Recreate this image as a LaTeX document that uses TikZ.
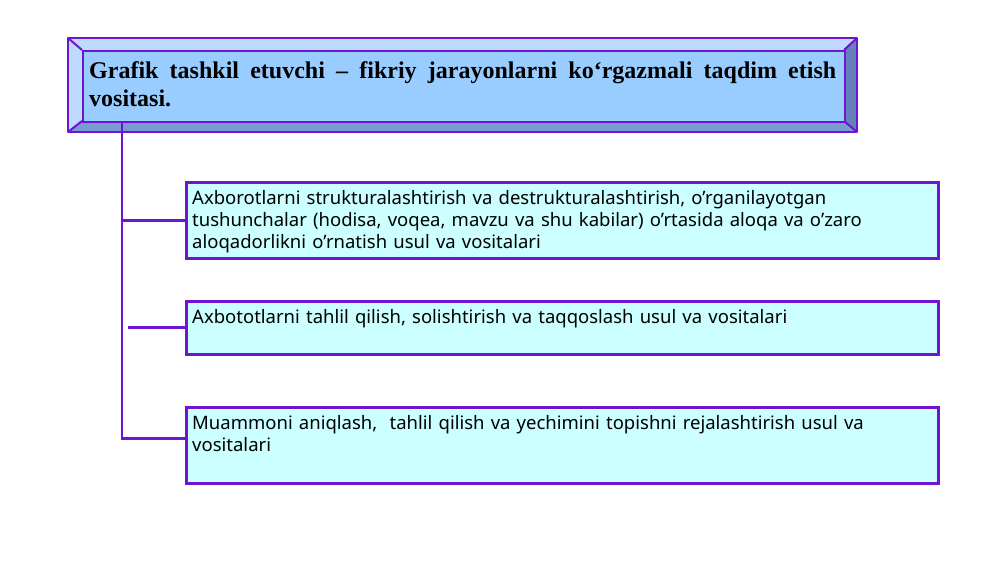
\documentclass[tikz,border=0pt]{standalone}
\usepackage{fontspec}
\setmainfont{Liberation Serif}
\newfontfamily\boxfont{Noto Sans}
\hyphenpenalty=10000
\exhyphenpenalty=10000
\definecolor{edge}{RGB}{110,20,210}
\definecolor{face}{RGB}{153,204,255}
\definecolor{bevlight}{RGB}{190,218,255}
\definecolor{bevdark}{RGB}{100,130,185}
\definecolor{bevbottom}{RGB}{120,155,210}
\definecolor{boxfill}{RGB}{204,255,255}
\tikzset{
  conn/.style={draw=edge, line width=2.8pt},
  infobox/.style={draw=edge, line width=2.6pt, fill=boxfill, anchor=north west, minimum width=752pt, inner sep=0pt},
  infotext/.style={anchor=north west, inner sep=0pt, font=\boxfont\fontsize{18.5}{22}\selectfont, text width=736pt, align=left},
  bevel/.style={draw=edge, line width=2pt, line join=round}
}
\begin{document}
\begin{tikzpicture}[x=1pt,y=-1pt]
\useasboundingbox[fill=white] (0,0) rectangle (1000,562);
% header bevel
\coordinate (o1) at (68,38); \coordinate (o2) at (857,38);
\coordinate (o3) at (857,132); \coordinate (o4) at (68,132);
\coordinate (i1) at (82,50); \coordinate (i2) at (844,50);
\coordinate (i3) at (844,121); \coordinate (i4) at (82,121);
\fill[bevlight] (o1) -- (o2) -- (i2) -- (i1) -- cycle;
\fill[bevlight] (o1) -- (i1) -- (i4) -- (o4) -- cycle;
\fill[bevdark] (o2) -- (o3) -- (i3) -- (i2) -- cycle;
\fill[bevbottom] (o4) -- (i4) -- (i3) -- (o3) -- cycle;
\node[draw=edge, line width=2pt, fill=face, anchor=north west, minimum width=762pt, minimum height=71pt, inner sep=0pt] (head) at (i1) {};
\draw[bevel] (o1) rectangle (o3);
\draw[bevel] (o1) -- (i1) (o2) -- (i2) (o3) -- (i3) (o4) -- (i4);
\node[anchor=north west, inner sep=0pt, font=\bfseries\fontsize{24}{28}\selectfont] (headtext) at (89,61.5)
  {\parbox{747pt}{Grafik tashkil etuvchi – fikriy jarayonlarni ko‘rgazmali taqdim etish vositasi.}};
% boxes
\node[infobox, minimum height=76pt] (b1) at (185,181) {};
\node[infobox, minimum height=53pt] (b2) at (185,300) {};
\node[infobox, minimum height=76pt] (b3) at (185,406) {};
\node[infotext] (t1) at (192,190) {Axborotlarni strukturalashtirish va destrukturalashtirish, o’rganilayotgan tushunchalar (hodisa, voqea, mavzu va shu kabilar) o’rtasida aloqa va o’zaro aloqadorlikni o’rnatish usul va vositalari};
\node[infotext] (t2) at (192,309) {Axbototlarni tahlil qilish, solishtirish va taqqoslash usul va vositalari};
\node[infotext] (t3) at (192,415) {Muammoni aniqlash,\ \ tahlil qilish va yechimini topishni rejalashtirish usul va vositalari};
% connectors
\coordinate (trunk) at ([xshift=40pt]head.south west);
\draw[conn] (trunk) |- ([yshift=7pt]b3.west);
\draw[conn] (trunk |- b1.west) -- (b1.west);
\draw[conn] (b2.west) -- ++(-57,0);
\end{tikzpicture}
\end{document}
